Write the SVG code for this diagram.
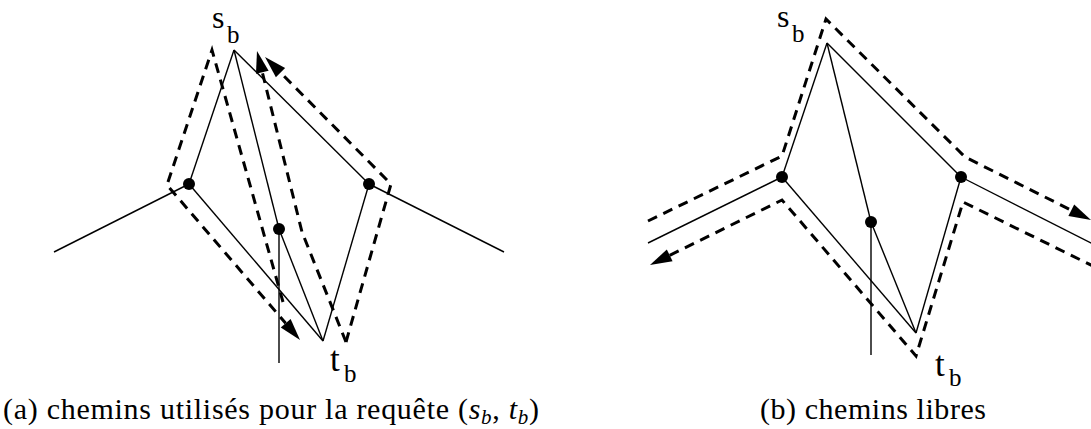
<svg xmlns="http://www.w3.org/2000/svg" width="1091" height="429" viewBox="0 0 1091 429">
<style>
.edge{fill:none;stroke:#000;stroke-width:1.4}
.path{fill:none;stroke:#000;stroke-width:3;stroke-dasharray:10,7}
.dot{fill:#000}
.lbl{font-family:"Liberation Serif",serif;fill:#000}
.s{font-size:32px}
.t{font-size:35px}
.sub{font-size:25px}
.cap{font-family:"Liberation Serif",serif;font-size:30px;fill:#000}
</style>
<defs>
<marker id="ah" markerUnits="userSpaceOnUse" markerWidth="24" markerHeight="14" refX="0" refY="6.5" orient="auto" overflow="visible">
<path d="M0,0 L22,6.5 L0,13 z" fill="#000"/>
</marker>
</defs>
<g id="edges">
<line class="edge" x1="234" y1="50" x2="189" y2="184"/>
<line class="edge" x1="234" y1="50" x2="279" y2="229"/>
<line class="edge" x1="234" y1="50" x2="369" y2="184"/>
<line class="edge" x1="189" y1="184" x2="323" y2="341"/>
<line class="edge" x1="279" y1="229" x2="323" y2="341"/>
<line class="edge" x1="369" y1="184" x2="323" y2="341"/>
<line class="edge" x1="189" y1="184" x2="54" y2="252"/>
<line class="edge" x1="369" y1="184" x2="504" y2="252"/>
<line class="edge" x1="279" y1="229" x2="279" y2="363"/>
<line class="edge" x1="827" y1="43" x2="782" y2="177"/>
<line class="edge" x1="827" y1="43" x2="871" y2="222"/>
<line class="edge" x1="827" y1="43" x2="961" y2="177"/>
<line class="edge" x1="782" y1="177" x2="916" y2="333"/>
<line class="edge" x1="871" y1="222" x2="916" y2="333"/>
<line class="edge" x1="961" y1="177" x2="916" y2="333"/>
<line class="edge" x1="782" y1="177" x2="648" y2="243"/>
<line class="edge" x1="961" y1="177" x2="1095" y2="245"/>
<line class="edge" x1="871" y1="222" x2="871" y2="355"/>
</g>
<g id="paths">
<path class="path" d="M283,302 L212,50 L167,185 L285.7,323.3" marker-end="url(#ah)"/>
<path class="path" d="M346,342 L302,232 L262.3,72.3" marker-end="url(#ah)"/>
<path class="path" d="M346,342 L391,184 L280.5,72.6" marker-end="url(#ah)"/>
<path class="path" d="M648,221 L782,156 L826,19 L965,157 L1071.3,210.2" marker-end="url(#ah)"/>
<path class="path" d="M1095,267 L963,202 L916,356 L782,200 L669.7,255.3" marker-end="url(#ah)"/>
</g>
<g id="node-a-left"><circle class="dot" cx="189" cy="184" r="6"/></g>
<g id="node-a-mid"><circle class="dot" cx="279" cy="229" r="6"/></g>
<g id="node-a-right"><circle class="dot" cx="369" cy="184" r="6"/></g>
<g id="node-b-left"><circle class="dot" cx="782" cy="177" r="6"/></g>
<g id="node-b-mid"><circle class="dot" cx="871" cy="222" r="6"/></g>
<g id="node-b-right"><circle class="dot" cx="961" cy="177" r="6"/></g>
<g id="labels">
<text class="lbl s" x="212" y="28">s</text>
<text class="lbl sub" x="227" y="43">b</text>
<text class="lbl t" x="330" y="371">t</text>
<text class="lbl sub" x="344" y="382">b</text>
<text class="lbl s" x="777" y="27">s</text>
<text class="lbl sub" x="792" y="42">b</text>
<text class="lbl t" x="935" y="376">t</text>
<text class="lbl sub" x="949" y="386">b</text>
</g>
<g id="captions">
<text class="cap" x="3" y="419" textLength="536" lengthAdjust="spacing">(a) chemins utilisés pour la requête (<tspan font-style="italic">s</tspan><tspan font-style="italic" font-size="21" dy="5">b</tspan><tspan dy="-5">, </tspan><tspan font-style="italic">t</tspan><tspan font-style="italic" font-size="21" dy="5">b</tspan><tspan dy="-5">)</tspan></text>
<text class="cap" x="760" y="419" textLength="226" lengthAdjust="spacing">(b) chemins libres</text>
</g>
</svg>
